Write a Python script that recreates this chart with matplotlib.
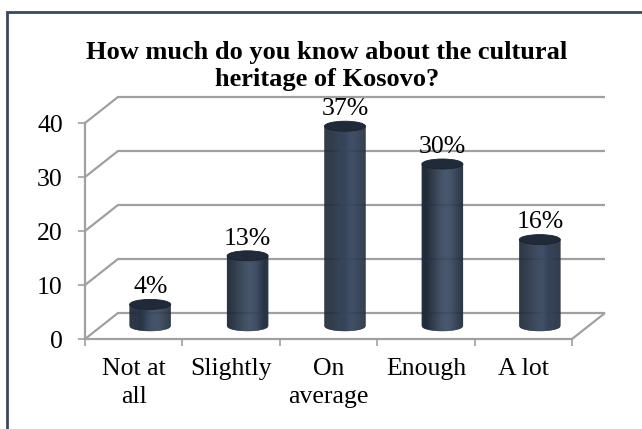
import numpy as np
import matplotlib.pyplot as plt
from matplotlib.patches import Ellipse, Polygon, Rectangle

categories = ["Not at\nall", "Slightly", "On\naverage", "Enough", "A lot"]
shares = [4, 13, 37, 30, 16]
y_ticks = [0, 10, 20, 30, 40]
title_lines = ["How much do you know about the cultural", "heritage of Kosovo?"]

plt.rcParams['font.family'] = ['Liberation Serif', 'DejaVu Serif']

W, H = 642, 429
fig = plt.figure(figsize=(W / 100, H / 100), dpi=100)

# pixel box of the front plane of the 3D chart
ax_l, ax_r, ax_b, ax_t = 85, 572, 339, 123
ax = fig.add_axes([ax_l / W, 1 - ax_b / H, (ax_r - ax_l) / W, (ax_b - ax_t) / H])
ax.set_xlim(-0.5, len(categories) - 0.5)
ax.set_ylim(0, 40)
ax.patch.set_visible(False)

# depth of the box in pixels, turned into data units
px_x = (ax_r - ax_l) / len(categories)
px_y = (ax_b - ax_t) / 40
dx, dy = 33 / px_x, 26 / px_y

gray = '#a0a0a0'
grid = dict(color=gray, lw=1.6, clip_on=False, zorder=1, solid_capstyle='butt')
x0, x1 = ax.get_xlim()
for v in y_ticks:
    ax.plot([x0, x0 + dx, x1 + dx], [v, v + dy, v + dy], **grid)
ax.plot([x1, x1 + dx], [0, dy], **grid)

for side in ['top', 'right']:
    ax.spines[side].set_visible(False)
for side in ['left', 'bottom']:
    ax.spines[side].set_color(gray)
    ax.spines[side].set_linewidth(1.6)

dark = np.array([0x1f, 0x29, 0x38]) / 255
light = np.array([0x38, 0x48, 0x5f]) / 255


def shade(u):
    t = np.exp(-((u - 0.2) / 0.65) ** 2)
    return tuple(dark + (light - dark) * t)


# cylinders sit halfway into the box
bw = 41 / px_x
eh = 10 / px_y
edges = np.linspace(-1, 1, 41)
for i, v in enumerate(shares):
    cx, base = i + dx / 2, dy / 2
    top = base + v
    for a, b in zip(edges[:-1], edges[1:]):
        xa, xb = cx + a * bw / 2, cx + b * bw / 2
        ya = base - eh / 2 * np.sqrt(max(0, 1 - a * a))
        yb = base - eh / 2 * np.sqrt(max(0, 1 - b * b))
        col = shade((a + b) / 2)
        ax.add_patch(Polygon([(xa, top), (xb, top), (xb, yb), (xa, ya)], closed=True,
                             fc=col, ec=col, lw=0.3, zorder=3, clip_on=False))
    ax.add_patch(Ellipse((cx, top), bw, eh, fc='#212a38', ec='#1b2330', lw=0.6,
                         zorder=4, clip_on=False))
    ax.annotate(f"{v}%", (cx, top), xytext=(0, 8), textcoords='offset points',
                ha='center', va='baseline', fontsize=18.5, zorder=5, annotation_clip=False)

ax.set_xticks(range(len(categories)), categories)
ax.set_xticks(np.arange(-0.5, len(categories), 1), minor=True)
ax.tick_params(axis='x', which='major', length=0, pad=14, labelsize=18.5)
ax.tick_params(axis='x', which='minor', length=5, width=1.2, color=gray, direction='out')
for lbl in ax.get_xticklabels():
    lbl.set_linespacing(1.3)
ax.set_yticks(y_ticks)
ax.tick_params(axis='y', length=5, width=1.2, color=gray, pad=11, labelsize=18.5)

for k, line in enumerate(title_lines):
    fig.text(327 / W, 1 - (59 + 27 * k) / H, line, ha='center', va='baseline',
             fontsize=19, fontweight='bold')

# chart border
fig.patches.append(Rectangle((7 / W, -0.1), 1, 1.1 - 12 / H, transform=fig.transFigure,
                             fill=False, ec='#3b4759', lw=2))

fig.savefig('out.png', dpi=100)
